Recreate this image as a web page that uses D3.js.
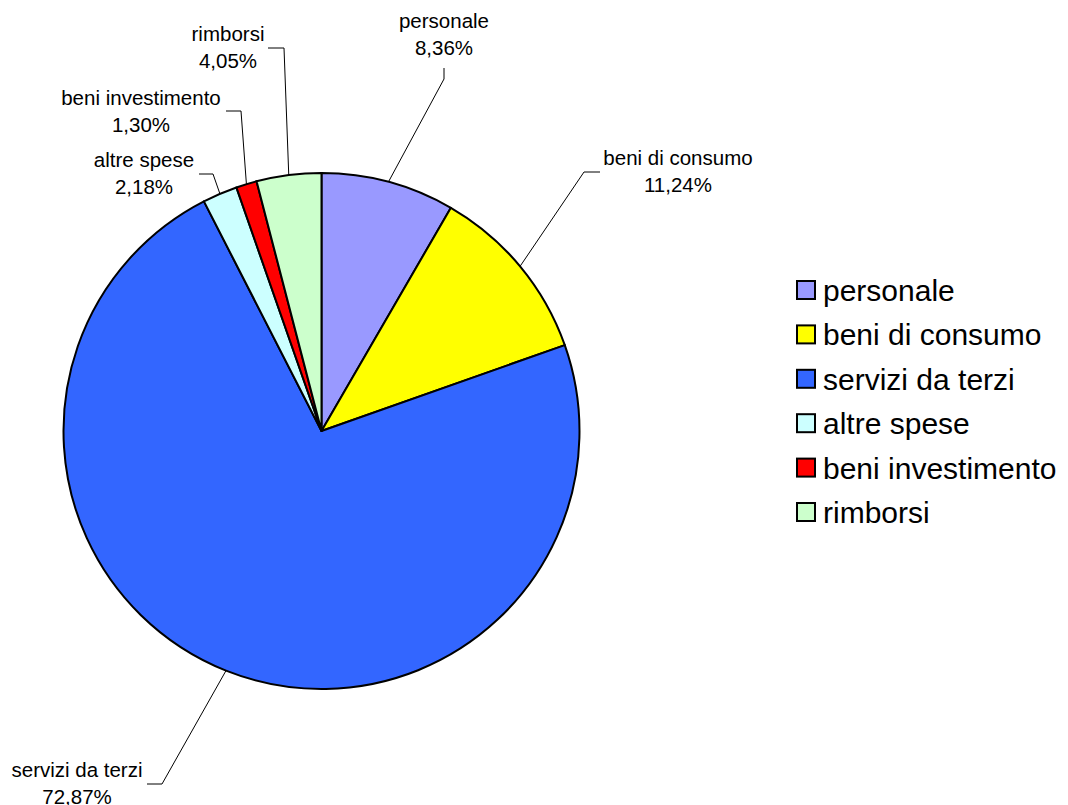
<!DOCTYPE html>
<html>
<head>
<meta charset="utf-8">
<script src="https://cdn.jsdelivr.net/npm/d3@7"></script>
<style>
  html, body { margin: 0; padding: 0; background: #fff; }
  svg { display: block; }
  text { font-family: "Liberation Sans", Arial, sans-serif; fill: #000; }
</style>
</head>
<body>
<svg id="chart" width="1068" height="805"></svg>
<script>
// ---- data ----
const categories = ["personale", "beni di consumo", "servizi da terzi", "altre spese", "beni investimento", "rimborsi"];
const values = [8.36, 11.24, 72.87, 2.18, 1.30, 4.05];
const valueLabels = ["8,36%", "11,24%", "72,87%", "2,18%", "1,30%", "4,05%"];
const colors = ["#9999FF", "#FFFF00", "#3366FF", "#CCFFFF", "#FF0000", "#CCFFCC"];

// ---- layout (label anchors and leader elbows) ----
const labelLayout = [
  { cx: 444, y: 28,  elbow: [444, 79], end: [444, 68] },
  { cx: 678, y: 165, elbow: [584, 172], end: [600, 172] },
  { cx: 77,  y: 777, elbow: [162, 784], end: [147, 784] },
  { cx: 144, y: 167, elbow: [213, 174], end: [199, 174] },
  { cx: 141, y: 105, elbow: [241, 111], end: [226, 111] },
  { cx: 228, y: 41,  elbow: [284, 48], end: [268, 48] }
];

const svg = d3.select("#chart");
const cx = 321.5, cy = 431, R = 258;

const data = categories.map((c, i) => ({ name: c, value: values[i], label: valueLabels[i], color: colors[i], layout: labelLayout[i] }));

const pie = d3.pie().sort(null).value(d => d.value);
const arcs = pie(data);
const arc = d3.arc().innerRadius(0).outerRadius(R);

const g = svg.append("g").attr("transform", `translate(${cx},${cy})`);
g.selectAll("path.slice")
  .data(arcs)
  .enter().append("path")
  .attr("class", "slice")
  .attr("d", arc)
  .attr("fill", d => d.data.color)
  .attr("stroke", "#000")
  .attr("stroke-width", 2)
  .attr("stroke-linejoin", "round");

// leader lines
const edgeArc = d3.arc().innerRadius(R).outerRadius(R);
svg.selectAll("polyline.leader")
  .data(arcs)
  .enter().append("polyline")
  .attr("class", "leader")
  .attr("fill", "none")
  .attr("stroke", "#000")
  .attr("stroke-width", 1)
  .attr("points", d => {
    const p = edgeArc.centroid(d);
    const L = d.data.layout;
    return [[cx + p[0], cy + p[1]], L.elbow, L.end].map(q => q.join(",")).join(" ");
  });

// data labels
const lbl = svg.selectAll("g.lbl")
  .data(arcs)
  .enter().append("g")
  .attr("class", "lbl");
lbl.append("text")
  .attr("x", d => d.data.layout.cx)
  .attr("y", d => d.data.layout.y)
  .attr("text-anchor", "middle")
  .style("font-size", "20.5px")
  .text(d => d.data.name);
lbl.append("text")
  .attr("x", d => d.data.layout.cx)
  .attr("y", d => d.data.layout.y + 27)
  .attr("text-anchor", "middle")
  .style("font-size", "20.5px")
  .text(d => d.data.label);

// legend
const legend = svg.append("g").attr("transform", "translate(796,301)");
const rowH = 44.4;
const item = legend.selectAll("g.item")
  .data(data)
  .enter().append("g")
  .attr("class", "item")
  .attr("transform", (d, i) => `translate(0,${i * rowH})`);
item.append("rect")
  .attr("x", 1).attr("y", -20)
  .attr("width", 18).attr("height", 18)
  .attr("fill", d => d.color)
  .attr("stroke", "#000")
  .attr("stroke-width", 2);
item.append("text")
  .attr("x", 27)
  .attr("y", 0)
  .style("font-size", "30px")
  .text(d => d.name);
</script>
</body>
</html>
